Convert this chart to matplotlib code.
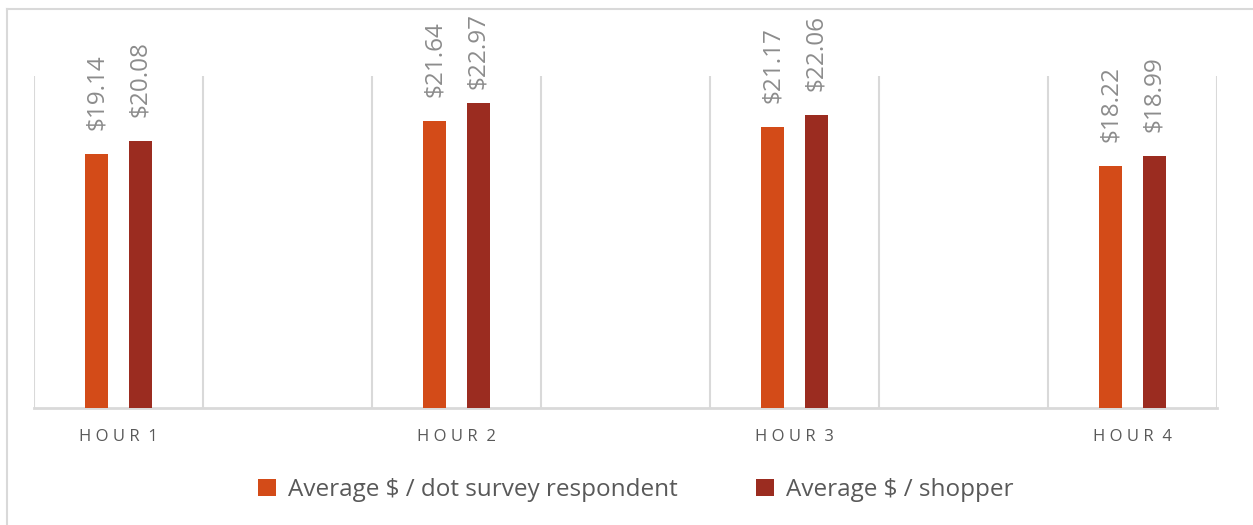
import matplotlib.pyplot as plt
from matplotlib.lines import Line2D
from matplotlib.patches import Patch
import numpy as np

# dades per hora
hores = ["HOUR 1", "HOUR 2", "HOUR 3", "HOUR 4"]
mitjana_enquesta = [19.14, 21.64, 21.17, 18.22]
mitjana_comprador = [20.08, 22.97, 22.06, 18.99]
series = ["Average $ / dot survey respondent", "Average $ / shopper"]

colors = ["#D34B18", "#9B2C20"]
gris_text = "#595959"
gris_label = "#8C8C8C"
gris_linia = "#D9D9D9"

plt.rcParams["font.family"] = ["Open Sans", "DejaVu Sans"]

fig = plt.figure(figsize=(12.53, 5.25), dpi=100)
ax = fig.add_axes([34 / 1253, 1 - 408 / 525, (1217 - 34) / 1253, (408 - 76) / 525])

x = np.arange(len(hores))
amplada = 0.068
desp = 0.065

for i, (vals, col) in enumerate(zip([mitjana_enquesta, mitjana_comprador], colors)):
    pos = x + (i * 2 - 1) * desp
    ax.bar(pos, vals, width=amplada, color=col, label=series[i], zorder=3)
    for px, v in zip(pos, vals):
        # l'etiqueta no pot sortir per dalt del gràfic
        ax.text(px, min(v + 1.8, 24.0), f"${v:.2f}", rotation=90, ha="center",
                va="bottom", fontsize=17.5, color=gris_label, clip_on=False)

ax.set_xlim(-0.25, 3.25)
ax.set_ylim(0, 25)

# linies verticals de separació
for g in np.arange(-0.25, 3.26, 0.5):
    ax.axvline(g, color=gris_linia, lw=1.5, zorder=1)

for s in ["top", "left", "right"]:
    ax.spines[s].set_visible(False)
ax.spines["bottom"].set_color(gris_linia)
ax.spines["bottom"].set_linewidth(2)

# etiquetes amb espai entre lletres
etiquetes = [" ".join(h.split(" ")[0]) + "  " + h.split(" ")[1] for h in hores]
ax.set_yticks([])
ax.set_xticks(x)
ax.set_xticklabels(etiquetes, fontsize=12, color=gris_text)
ax.tick_params(axis="x", length=0, pad=15)

handles = [Patch(facecolor=c, edgecolor="none") for c in colors]
fig.legend(handles, series, loc="center", bbox_to_anchor=(636 / 1253, 1 - 490 / 525),
           ncol=2, frameon=False, fontsize=17.5, labelcolor=gris_text,
           handlelength=0.75, handleheight=0.75, handletextpad=0.5, columnspacing=3.2)

# vora del gràfic
fig.add_artist(Line2D([7 / 1253, 7 / 1253], [0, 1 - 9 / 525], color=gris_linia, lw=1.5))
fig.add_artist(Line2D([7 / 1253, 1], [1 - 9 / 525, 1 - 9 / 525], color=gris_linia, lw=1.5))

fig.savefig("out.png", dpi=100)
